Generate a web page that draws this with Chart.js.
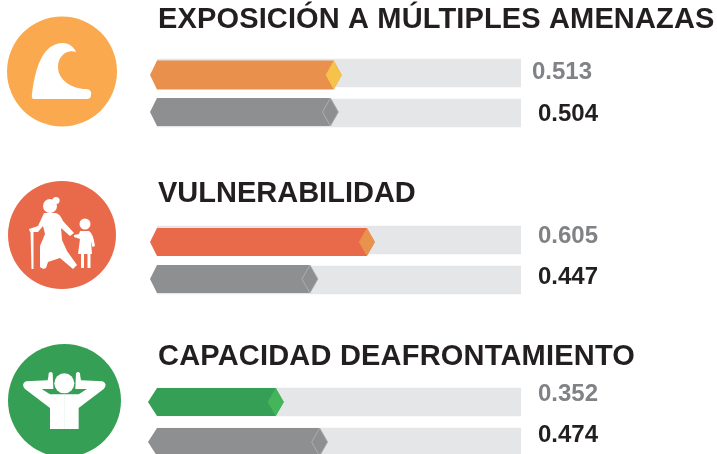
<!DOCTYPE html>
<html lang="es">
<head>
<meta charset="utf-8">
<script src="https://cdn.jsdelivr.net/npm/chart.js@4/dist/chart.umd.min.js"></script>
<style>
html,body{margin:0;padding:0;width:717px;height:454px;overflow:hidden;background:#fff}
#icons{position:absolute;left:0;top:0}
.box{position:absolute;left:0;width:717px}
</style>
</head>
<body>
<svg id="icons" width="717" height="454" viewBox="0 0 717 454">
  <circle cx="62" cy="71.5" r="55" fill="#faa94f"/>
  <path fill="#fff" d="M34 99Q31 99 32 94C35 70 42 43 63 43C69 43 74 47 76 52C68 49 58 55 58 67C58 80 72 89 86 89C90 89 92 92 91 95C91 98 89 99 87 99Z"/>

  <circle cx="62" cy="235" r="54" fill="#e9694b"/>
  <g fill="#fff">
    <circle cx="50" cy="206" r="7"/><circle cx="56" cy="200.5" r="3.6"/>
    <path d="M44 213H56Q60 214 63 221L74 233L70 236L61 228L62 240L67 251L77 265L73 269L60 258L48 262L46 268Q43 270 40 267L40 246L45 234L43 226L38 232H30L29 229L38 226Z"/>
    <path d="M30.5 231H33.5V269H31.5Z"/>
    <circle cx="85" cy="224" r="5.5"/>
    <path d="M80 231H89Q93 233 95 246L92.5 247L91 241L92 254H90.5V268H87.5V254H84V268H81V254H78L80 239L74 237V235L79 234Z"/>
  </g>

  <circle cx="64.5" cy="400.5" r="56.5" fill="#35a055"/>
  <g fill="#fff" transform="translate(0,334) scale(0.3333)">
    <circle cx="193" cy="148" r="30"/>
    <path d="M193.5 285H150V222L75 165Q62 150 78 142L143 139Q146 125 146 118Q152 110 158 118L160 165H125L150 181H193.5Z"/>
    <path transform="translate(386,0) scale(-1,1)" d="M193.5 285H150V222L75 165Q62 150 78 142L143 139Q146 125 146 118Q152 110 158 118L160 165H125L150 181H193.5Z"/>
  </g>
</svg>
<div class="box" style="top:0;height:133px"><canvas id="c1"></canvas></div>
<div class="box" style="top:174px;height:126px"><canvas id="c2"></canvas></div>
<div class="box" style="top:337px;height:125px"><canvas id="c3"></canvas></div>
<script>
// ---- data ----
const titles = ['EXPOSICIÓN A MÚLTIPLES AMENAZAS', 'VULNERABILIDAD', 'CAPACIDAD DEAFRONTAMIENTO'];
const rowNames = ['Municipio', 'Promedio'];
const exposicion = [0.513, 0.504];
const vulnerabilidad = [0.605, 0.447];
const capacidad = [0.352, 0.474];
const trackFull = 1.011;

// ---- styling ----
const F = 'bold {s}px "Liberation Sans", Arial, sans-serif';
const GRAY = '#8e8f91', TRACK = '#e5e6e8';
const looks = [
  {id:'c1', values:exposicion, body:[ '#e8904c', GRAY], tip:['#f5c24a', GRAY], top:53, arrow:7, dy:[2,-1], ldy:[-2,0], lx:[532,538], h:[29,28], ls:'0.14px'},
  {id:'c2', values:vulnerabilidad, body:['#e9694b', GRAY], tip:['#e8934c', GRAY], top:46, arrow:7, dy:[2,-1], ldy:[-5,-4], lx:[538,538], h:[28,28], ls:'0px'},
  {id:'c3', values:capacidad, body:['#35a055', GRAY], tip:['#45b55c', GRAY], top:45, arrow:9, dy:[0,0], ldy:[-9,-8], lx:[538,538], h:[28,28], ls:'0.2px'}
];

const hexBars = {
  id:'hexBars',
  beforeDatasetDraw(chart, args, opts){
    if(args.index !== 1) return;
    const ctx = chart.ctx, meta = args.meta, L = opts.look;
    const x0 = chart.scales.x.left;
    meta.data.forEach((el, i) => {
      const cy = el.y + L.dy[i], hh = L.h[i]/2, tip = el.x, sh = tip - 8;
      ctx.save();
      ctx.beginPath();
      ctx.moveTo(x0 - L.arrow, cy);
      ctx.lineTo(x0, cy - hh); ctx.lineTo(sh, cy - hh); ctx.lineTo(tip, cy);
      ctx.lineTo(sh, cy + hh); ctx.lineTo(x0, cy + hh); ctx.closePath();
      ctx.fillStyle = L.body[i]; ctx.fill();
      ctx.beginPath();
      ctx.moveTo(tip, cy); ctx.lineTo(sh, cy - hh); ctx.lineTo(tip - 16, cy); ctx.lineTo(sh, cy + hh); ctx.closePath();
      ctx.fillStyle = L.tip[i]; ctx.fill();
      if(L.tip[i] === GRAY){ ctx.strokeStyle = '#b4b5b7'; ctx.lineWidth = 0.8; ctx.stroke(); }
      ctx.restore();
    });
    return false;
  },
  afterDraw(chart, args, opts){
    const ctx = chart.ctx, L = opts.look;
    const meta = chart.getDatasetMeta(1);
    ctx.save();
    ctx.font = F.replace('{s}', 29);
    ctx.letterSpacing = L.ls;
    ctx.fillStyle = '#231f20';
    ctx.textBaseline = 'alphabetic'; ctx.textAlign = 'left';
    ctx.fillText(opts.title, chart.scales.x.left + 1, 28);
    ctx.letterSpacing = '0px';
    ctx.font = F.replace('{s}', 24);
    ctx.textBaseline = 'middle';
    meta.data.forEach((el, i) => {
      ctx.fillStyle = i === 0 ? '#808285' : '#231f20';
      ctx.fillText(L.values[i].toFixed(3), L.lx[i], el.y + L.ldy[i] + 1);
    });
    ctx.restore();
  }
};

looks.forEach((L, k) => {
  new Chart(document.getElementById(L.id), {
    type:'bar',
    data:{
      labels:rowNames,
      datasets:[
        {label:'Base', data:rowNames.map(()=>trackFull), backgroundColor:TRACK, barThickness:28, grouped:false, order:2},
        {label:titles[k], data:L.values, backgroundColor:L.body, barThickness:28, grouped:false, order:1}
      ]
    },
    plugins:[hexBars],
    options:{
      indexAxis:'y', responsive:true, maintainAspectRatio:false, animation:false,
      layout:{padding:{left:157, right:196, top:L.top, bottom:0}},
      scales:{
        x:{type:'linear', min:0, max:trackFull, display:false},
        y:{type:'category', display:false}
      },
      plugins:{
        legend:{display:false}, tooltip:{enabled:false}, title:{display:false},
        hexBars:{look:L, title:titles[k]}
      }
    }
  });
});
</script>
</body>
</html>
